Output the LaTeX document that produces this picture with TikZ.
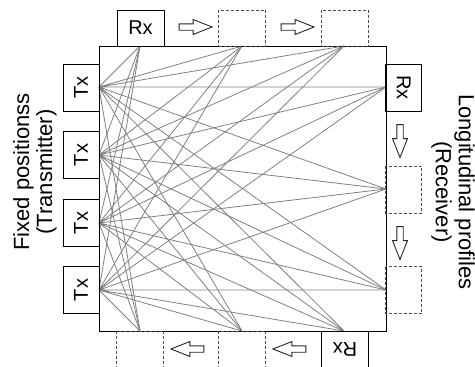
\documentclass[tikz,border=0pt]{standalone}
\usepackage{fontspec}
\setmainfont{Liberation Sans}
\usetikzlibrary{shapes.arrows}

\begin{document}
\begin{tikzpicture}
  [x=1pt,y=-1pt,
   antenna/.style={rectangle,draw=black,line width=0.9pt,minimum width=47pt,minimum height=36pt,inner sep=0pt,font=\fontsize{20}{24}\selectfont},
   position/.style={antenna,draw=black!70,dash pattern=on 3pt off 2pt},
   movearrow/.style={single arrow,draw=black!85,line width=0.9pt,inner sep=2.75pt,single arrow head extend=4.25pt,single arrow tip angle=43,minimum height=33pt},
   ray/.style={black!50,line width=0.8pt},
   caption/.style={align=center,font=\fontsize{22}{23}\selectfont}]
  \useasboundingbox (0,0) rectangle (475,367);
  % transmitter points
  \coordinate (T1) at (99,87);
  \coordinate (T2) at (99,155);
  \coordinate (T3) at (99,223);
  \coordinate (T4) at (99,290);
  % receiver positions
  \coordinate (P1) at (140,46);
  \coordinate (P2) at (242,46);
  \coordinate (P3) at (344,46);
  \coordinate (P4) at (386,87);
  \coordinate (P5) at (386,189);
  \coordinate (P6) at (386,290);
  \coordinate (P7) at (344,331);
  \coordinate (P8) at (242,331);
  \coordinate (P9) at (140,331);
  % rays
  \draw [ray] (T1) -- (P1) (T1) -- (P2) (T1) -- (P3) (T1) -- (P4) (T1) -- (P5) (T1) -- (P6) (T1) -- (P7) (T1) -- (P8) (T1) -- (P9);
  \draw [ray] (T2) -- (P1) (T2) -- (P2) (T2) -- (P3) (T2) -- (P4) (T2) -- (P5) (T2) -- (P6) (T2) -- (P7) (T2) -- (P8) (T2) -- (P9);
  \draw [ray] (T3) -- (P1) (T3) -- (P2) (T3) -- (P3) (T3) -- (P4) (T3) -- (P5) (T3) -- (P6) (T3) -- (P7) (T3) -- (P8) (T3) -- (P9);
  \draw [ray] (T4) -- (P1) (T4) -- (P2) (T4) -- (P3) (T4) -- (P4) (T4) -- (P5) (T4) -- (P6) (T4) -- (P7) (T4) -- (P8) (T4) -- (P9);
  \node (field) [draw,line width=0.9pt,minimum width=287pt,minimum height=285pt,inner sep=0pt] at (242.5,188.5) {};
  % transmitters
  \node (tx1) [antenna,rotate=90] at (81,87.5) {Tx};
  \node (tx2) [antenna,rotate=90] at (81,155) {Tx};
  \node (tx3) [antenna,rotate=90] at (81,223) {Tx};
  \node (tx4) [antenna,rotate=90] at (81,290) {Tx};
  % receivers
  \node (rx1) [antenna] at (140.5,28) {Rx};
  \node (d1) [position] at (242,28) {};
  \node (d2) [position] at (344.5,28) {};
  \node (rx2) [antenna,rotate=-90] at (403.75,87.5) {Rx};
  \node (d3) [position,rotate=90] at (403.75,189.5) {};
  \node (d4) [position,rotate=90] at (403.75,290) {};
  \node (rx3) [antenna,rotate=180] at (345,349) {Rx};
  \node (d5) [position] at (242,349) {};
  \node (d6) [position] at (140,349) {};
  % moves
  \node (a1) [movearrow] at (191.5,27) {};
  \node (a2) [movearrow] at (293.5,27) {};
  \node (a3) [movearrow,rotate=-90] at (400,137) {};
  \node (a4) [movearrow,rotate=-90] at (400,239) {};
  \node (a5) [movearrow,rotate=180] at (293.5,349) {};
  \node (a6) [movearrow,rotate=180] at (191.5,349) {};
  % captions
  \node (fixed) [caption,rotate=90] at (35,172) {Fixed positionss\\(Transmitter)};
  \node (longi) [caption,rotate=-90] at (453,192) {Longitudinal profiles\\(Receiver)};
\end{tikzpicture}
\end{document}
